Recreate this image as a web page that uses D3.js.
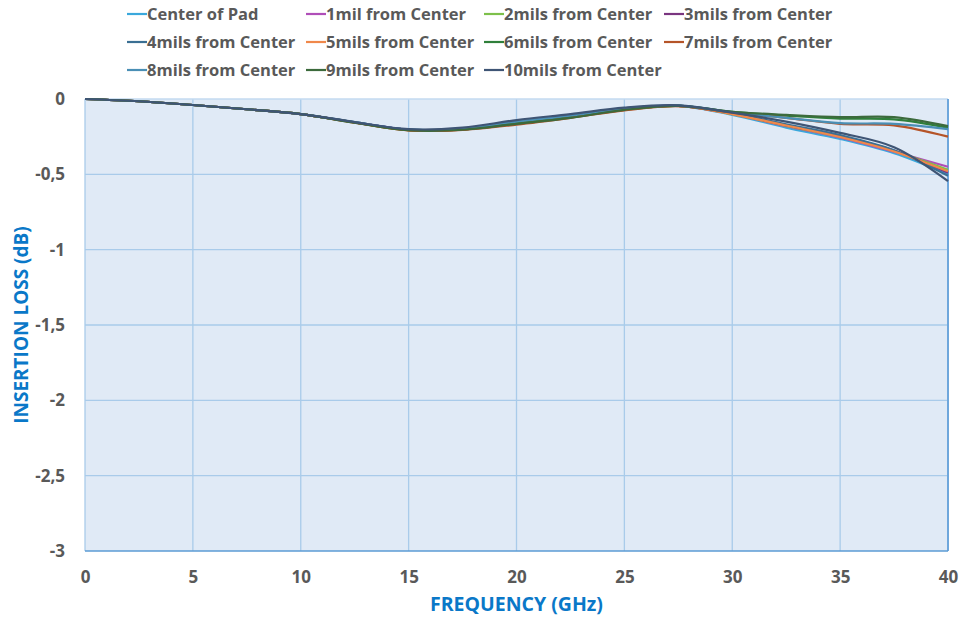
<!DOCTYPE html>
<html>
<head>
<meta charset="utf-8">
<script src="https://cdn.jsdelivr.net/npm/d3@7"></script>
<style>
  body { margin: 0; background: #fff; }
  text { font-family: "Open Sans", "Noto Sans", sans-serif; }
</style>
</head>
<body>
<svg id="chart"></svg>
<script>
var W = 974, H = 618
var margin = {top: 99, right: 26, bottom: 67, left: 85},
    width = W - margin.left - margin.right,
    height = H - margin.top - margin.bottom

// frequency points (GHz)
var freq = [0, 2.5, 5, 7.5, 10, 12.5, 15, 17.5, 20, 22.5, 25, 27.5, 30, 32.5, 35, 37.5, 40]
var seriesNames = ["Center of Pad", "1mil from Center", "2mils from Center", "3mils from Center",
  "4mils from Center", "5mils from Center", "6mils from Center", "7mils from Center",
  "8mils from Center", "9mils from Center", "10mils from Center"]
var colors = ["#3aa8dc", "#b04eb8", "#7dc04a", "#7a3580", "#3a6f93", "#f0884a",
  "#2f7f3a", "#b55428", "#4a8fb5", "#3c6a3c", "#3f5575"]

// insertion loss (dB), one array per series
var centerPad = [0, -0.015, -0.04, -0.068, -0.1, -0.155, -0.205, -0.2, -0.155, -0.115, -0.065, -0.045, -0.105, -0.19, -0.265, -0.36, -0.5]
var mil1 = [0, -0.015, -0.04, -0.068, -0.1, -0.155, -0.205, -0.2, -0.157, -0.117, -0.067, -0.045, -0.1, -0.18, -0.255, -0.35, -0.45]
var mil2 = [0, -0.015, -0.04, -0.068, -0.1, -0.156, -0.206, -0.202, -0.16, -0.12, -0.07, -0.046, -0.1, -0.178, -0.25, -0.345, -0.47]
var mil3 = [0, -0.015, -0.04, -0.068, -0.1, -0.155, -0.205, -0.201, -0.158, -0.118, -0.068, -0.045, -0.098, -0.175, -0.248, -0.342, -0.49]
var mil4 = [0, -0.015, -0.04, -0.068, -0.1, -0.154, -0.203, -0.196, -0.15, -0.11, -0.062, -0.044, -0.095, -0.168, -0.24, -0.34, -0.51]
var mil5 = [0, -0.015, -0.04, -0.068, -0.1, -0.156, -0.207, -0.203, -0.163, -0.122, -0.072, -0.047, -0.1, -0.176, -0.252, -0.348, -0.48]
var mil6 = [0, -0.015, -0.04, -0.068, -0.1, -0.156, -0.206, -0.202, -0.162, -0.12, -0.07, -0.046, -0.085, -0.11, -0.13, -0.135, -0.19]
var mil7 = [0, -0.015, -0.04, -0.068, -0.1, -0.157, -0.208, -0.205, -0.17, -0.125, -0.075, -0.048, -0.09, -0.125, -0.165, -0.175, -0.25]
var mil8 = [0, -0.015, -0.04, -0.068, -0.1, -0.154, -0.203, -0.196, -0.15, -0.11, -0.063, -0.044, -0.088, -0.125, -0.16, -0.165, -0.2]
var mil9 = [0, -0.015, -0.04, -0.068, -0.1, -0.157, -0.207, -0.204, -0.165, -0.125, -0.072, -0.046, -0.085, -0.105, -0.12, -0.12, -0.18]
var mil10 = [0, -0.015, -0.04, -0.068, -0.1, -0.153, -0.2, -0.19, -0.14, -0.1, -0.057, -0.042, -0.09, -0.15, -0.225, -0.32, -0.545]
var allValues = [centerPad, mil1, mil2, mil3, mil4, mil5, mil6, mil7, mil8, mil9, mil10]

var xTicks = [0, 5, 10, 15, 20, 25, 30, 35, 40]
var yTicks = [0, -0.5, -1, -1.5, -2, -2.5, -3]

var svg = d3.select("#chart").attr("width", W).attr("height", H)

var x = d3.scaleLinear().domain([0, 40]).range([margin.left, margin.left + width])
var y = d3.scaleLinear().domain([-3, 0]).range([margin.top + height, margin.top])

// plot background
svg.append("rect")
  .attr("x", x(0)).attr("y", y(0))
  .attr("width", x(40) - x(0)).attr("height", y(-3) - y(0))
  .attr("fill", "#e0eaf6")

// grid
svg.append("g").selectAll("line").data(xTicks.slice(1, -1)).enter().append("line")
  .attr("x1", d => x(d)).attr("x2", d => x(d))
  .attr("y1", y(0)).attr("y2", y(-3))
  .attr("stroke", "#a9cbea").attr("stroke-width", 1.3)
svg.append("g").selectAll("line").data(yTicks.slice(1, -1)).enter().append("line")
  .attr("x1", x(0)).attr("x2", x(40))
  .attr("y1", d => y(d)).attr("y2", d => y(d))
  .attr("stroke", "#a9cbea").attr("stroke-width", 1.3)

// borders
svg.append("line").attr("x1", x(0)).attr("x2", x(40)).attr("y1", y(0)).attr("y2", y(0))
  .attr("stroke", "#c3daf0").attr("stroke-width", 1.5)
svg.append("line").attr("x1", x(0)).attr("x2", x(0)).attr("y1", y(0)).attr("y2", y(-3))
  .attr("stroke", "#a9cbea").attr("stroke-width", 1.3)
svg.append("line").attr("x1", x(40)).attr("x2", x(40)).attr("y1", y(0)).attr("y2", y(-3))
  .attr("stroke", "#6fa7dc").attr("stroke-width", 2)
svg.append("line").attr("x1", x(0)).attr("x2", x(40)).attr("y1", y(-3)).attr("y2", y(-3))
  .attr("stroke", "#5b9bd5").attr("stroke-width", 1.5)

// axes
var fmt = d => String(d).replace(".", ",")
var xAxis = svg.append("g")
  .attr("transform", "translate(0," + (y(-3) + 17) + ")")
  .call(d3.axisBottom(x).tickValues(xTicks).tickSize(0).tickFormat(fmt))
var yAxis = svg.append("g")
  .attr("transform", "translate(" + (x(0) - 17) + ",0)")
  .call(d3.axisLeft(y).tickValues(yTicks).tickSize(0).tickFormat(fmt))
xAxis.select(".domain").remove()
yAxis.select(".domain").remove()
svg.selectAll(".tick text")
  .attr("fill", "#595959")
  .attr("font-size", "17px")
  .attr("font-weight", "bold")
  .attr("font-family", "'Open Sans', sans-serif")

// axis titles
svg.append("text")
  .attr("x", x(20)).attr("y", 611)
  .attr("text-anchor", "middle")
  .attr("fill", "#0a78c8").attr("font-size", "19.5px").attr("font-weight", "bold")
  .text("FREQUENCY (GHz)")
svg.append("text")
  .attr("transform", "translate(28," + y(-1.5) + ") rotate(-90)")
  .attr("text-anchor", "middle")
  .attr("fill", "#0a78c8").attr("font-size", "19px").attr("font-weight", "bold")
  .text("INSERTION LOSS (dB)")

// lines
var line = d3.line()
  .x((d, i) => x(freq[i]))
  .y(d => y(d))
  .curve(d3.curveCatmullRom.alpha(0.5))

svg.append("g").selectAll("path").data(allValues).enter().append("path")
  .attr("d", line)
  .attr("fill", "none")
  .attr("stroke", (d, i) => colors[i])
  .attr("stroke-width", 2.2)

// legend
var legX = [127, 306, 484, 664]
var legend = svg.append("g").selectAll("g").data(seriesNames).enter().append("g")
  .attr("transform", (d, i) => "translate(" + legX[i % 4] + "," + (14 + Math.floor(i / 4) * 28) + ")")
legend.append("line")
  .attr("x1", 0).attr("x2", 20).attr("y1", 0).attr("y2", 0)
  .attr("stroke", (d, i) => colors[i]).attr("stroke-width", 2.2)
legend.append("text")
  .attr("x", 20).attr("y", 0).attr("dy", "0.35em")
  .attr("fill", "#595959").attr("font-size", "16.5px").attr("font-weight", "bold")
  .text(d => d)
</script>
</body>
</html>
